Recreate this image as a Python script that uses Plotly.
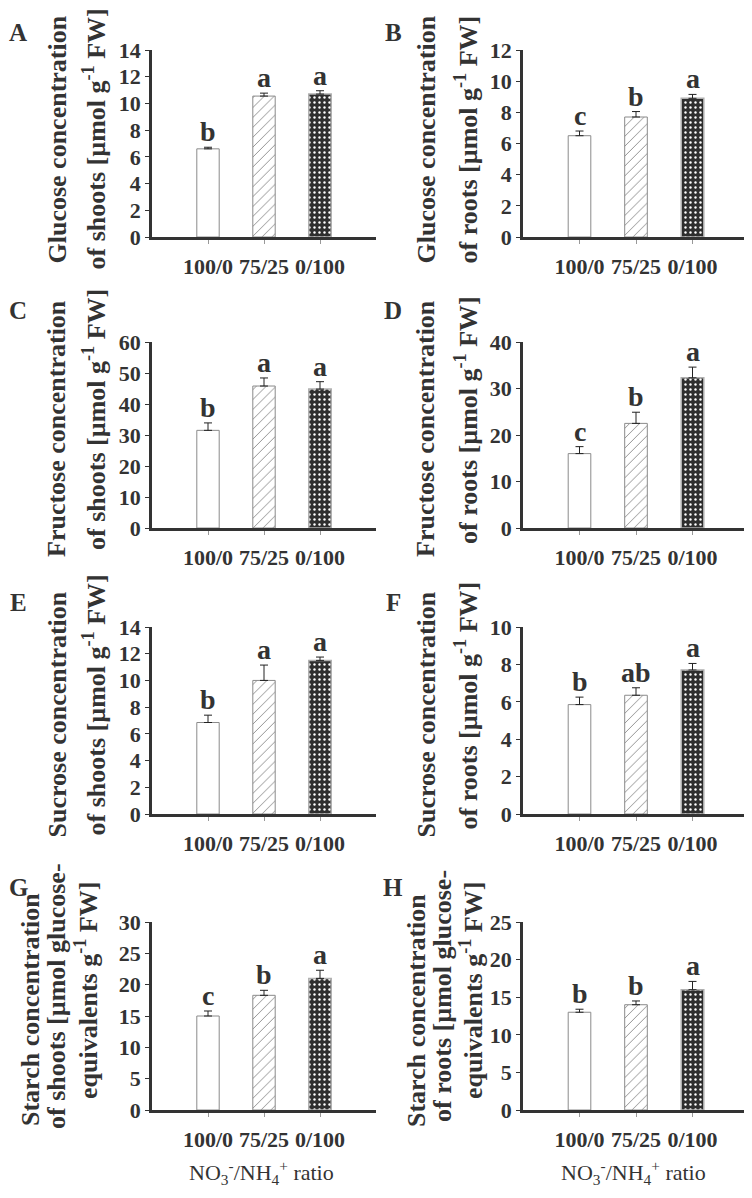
import plotly.graph_objects as go

# ---------------- data ----------------
categories = ["100/0", "75/25", "0/100"]

glucose_shoots = [6.6, 10.55, 10.7]
glucose_shoots_err = [0.12, 0.22, 0.25]
glucose_shoots_letters = ["b", "a", "a"]

glucose_roots = [6.5, 7.7, 8.9]
glucose_roots_err = [0.3, 0.35, 0.25]
glucose_roots_letters = ["c", "b", "a"]

fructose_shoots = [31.5, 45.8, 44.8]
fructose_shoots_err = [2.4, 2.6, 2.4]
fructose_shoots_letters = ["b", "a", "a"]

fructose_roots = [16.0, 22.5, 32.3]
fructose_roots_err = [1.5, 2.4, 2.3]
fructose_roots_letters = ["c", "b", "a"]

sucrose_shoots = [6.85, 10.0, 11.5]
sucrose_shoots_err = [0.55, 1.15, 0.25]
sucrose_shoots_letters = ["b", "a", "a"]

sucrose_roots = [5.85, 6.35, 7.7]
sucrose_roots_err = [0.4, 0.4, 0.35]
sucrose_roots_letters = ["b", "ab", "a"]

starch_shoots = [15.0, 18.3, 21.0]
starch_shoots_err = [0.8, 0.8, 1.3]
starch_shoots_letters = ["c", "b", "a"]

starch_roots = [13.0, 14.0, 16.0]
starch_roots_err = [0.4, 0.5, 1.1]
starch_roots_letters = ["b", "b", "a"]

panel_labels = ["A", "B", "C", "D", "E", "F", "G", "H"]
y_max = [14, 12, 60, 40, 14, 10, 30, 25]
y_dtick = [2, 2, 10, 10, 2, 2, 5, 5]

y_titles = [
    ["Glucose concentration", "of shoots [µmol g<sup>-1</sup> FW]"],
    ["Glucose concentration", "of roots [µmol g<sup>-1</sup> FW]"],
    ["Fructose concentration", "of shoots [µmol g<sup>-1</sup> FW]"],
    ["Fructose concentration", "of roots [µmol g<sup>-1</sup> FW]"],
    ["Sucrose concentration", "of shoots [µmol g<sup>-1</sup> FW]"],
    ["Sucrose concentration", "of roots [µmol g<sup>-1</sup> FW]"],
    ["Starch concentration", "of shoots [µmol glucose-", "equivalents g<sup>-1</sup> FW]"],
    ["Starch concentration", "of roots [µmol glucose-", "equivalents g<sup>-1</sup> FW]"],
]
x_title = "NO<sub>3</sub><sup>-</sup>/NH<sub>4</sub><sup>+</sup> ratio"

values = [glucose_shoots, glucose_roots, fructose_shoots, fructose_roots,
          sucrose_shoots, sucrose_roots, starch_shoots, starch_roots]
errors = [glucose_shoots_err, glucose_roots_err, fructose_shoots_err, fructose_roots_err,
          sucrose_shoots_err, sucrose_roots_err, starch_shoots_err, starch_roots_err]
letters = [glucose_shoots_letters, glucose_roots_letters, fructose_shoots_letters,
           fructose_roots_letters, sucrose_shoots_letters, sucrose_roots_letters,
           starch_shoots_letters, starch_roots_letters]

# ---------------- layout geometry (pixels in the page) ----------------
W, H = 752, 1198
OFF = 8  # the page body margin offsets the figure by 8 px
col_x = [(152, 376), (523, 749)]
row_y = [(50, 237), (342, 528), (627, 814), (922, 1110)]
FONT = "Liberation Serif"
DARK = "#333333"


def px(x):
    return (x - OFF) / W


def py(y):
    return 1 - (y - OFF) / H


bar_styles = [
    dict(color="white", line=dict(color="#8a8a8a", width=1)),
    dict(color="white", line=dict(color="#8a8a8a", width=1),
         pattern=dict(shape="/", fgcolor="#808080", bgcolor="white", size=7,
                      solidity=0.12, fillmode="replace")),
    dict(color="#2e2e2e", line=dict(color="#b0b0b0", width=1.5),
         pattern=dict(shape=".", fgcolor="white", bgcolor="#2e2e2e", size=5,
                      solidity=0.18, fillmode="replace")),
]

fig = go.Figure()
annotations = []
layout_axes = {}

for i in range(8):
    r, c = divmod(i, 2)
    ax = "" if i == 0 else str(i + 1)
    xref, yref = "x" + ax, "y" + ax
    x0, x1 = col_x[c]
    y0, y1 = row_y[r]
    for k, cat in enumerate(categories):
        fig.add_trace(go.Bar(
            x=[cat], y=[values[i][k]], width=0.4, xaxis=xref, yaxis=yref,
            marker=bar_styles[k], showlegend=False,
            error_y=dict(type="data", symmetric=False, array=[errors[i][k]],
                         arrayminus=[0], color="#222222", thickness=1, width=4),
        ))
        annotations.append(dict(
            x=cat, y=values[i][k] + errors[i][k], xref=xref, yref=yref,
            text=letters[i][k], showarrow=False, yanchor="bottom", yshift=-2,
            font=dict(family=FONT, size=28, color=DARK, weight="bold"),
        ))
    layout_axes["xaxis" + ax] = dict(
        domain=[px(x0), px(x1)], anchor=yref, type="category",
        categoryarray=categories, categoryorder="array", range=[-1, 3],
        showline=True, linecolor=DARK, linewidth=2.5, ticks="outside",
        ticklen=4, tickcolor="#999999", showgrid=False, zeroline=False,
        tickfont=dict(family=FONT, size=22, color=DARK, weight="bold"),
        ticklabelstandoff=4, automargin=False,
    )
    layout_axes["yaxis" + ax] = dict(
        domain=[py(y1), py(y0)], anchor=xref, range=[0, y_max[i]],
        dtick=y_dtick[i], showline=True, linecolor=DARK, linewidth=2.5,
        ticks="outside", ticklen=4, tickcolor=DARK, showgrid=False,
        zeroline=False, automargin=False,
        tickfont=dict(family=FONT, size=22, color=DARK, weight="bold"),
    )
    # panel letter
    lx = 18 if c == 0 else 393
    ly = [32, 310, 602, 888][r]
    annotations.append(dict(
        x=px(lx), y=py(ly), xref="paper", yref="paper", text=panel_labels[i],
        showarrow=False, xanchor="center", yanchor="middle",
        font=dict(family=FONT, size=25, color=DARK, weight="bold"),
    ))
    # y titles
    lines = y_titles[i]
    if len(lines) == 2:
        xs = [57, 95] if c == 0 else [426, 467]
        if r == 0:
            offs = [-4, -4] if c == 0 else [-4, -4]
        else:
            offs = [-6, -15]
    else:
        xs = [30, 56, 86] if c == 0 else [416, 442, 471]
        offs = [-6, -20, -25]
    cy = (y0 + y1) / 2
    for t, xx, oo in zip(lines, xs, offs):
        annotations.append(dict(
            x=px(xx), y=py(cy + oo), xref="paper", yref="paper", text=t,
            showarrow=False, textangle=-90, xanchor="center", yanchor="middle",
            font=dict(family=FONT, size=26, color=DARK, weight="bold"),
        ))

for xc in [262, 633]:
    annotations.append(dict(
        x=px(xc), y=py(1172), xref="paper", yref="paper", text=x_title,
        showarrow=False, xanchor="center", yanchor="middle",
        font=dict(family=FONT, size=22, color=DARK),
    ))

fig.update_layout(
    width=W, height=H, margin=dict(l=0, r=0, t=0, b=0, autoexpand=False),
    paper_bgcolor="white", plot_bgcolor="white",
    barmode="overlay", annotations=annotations, showlegend=False,
    **layout_axes,
)

fig.write_html("out.html")
